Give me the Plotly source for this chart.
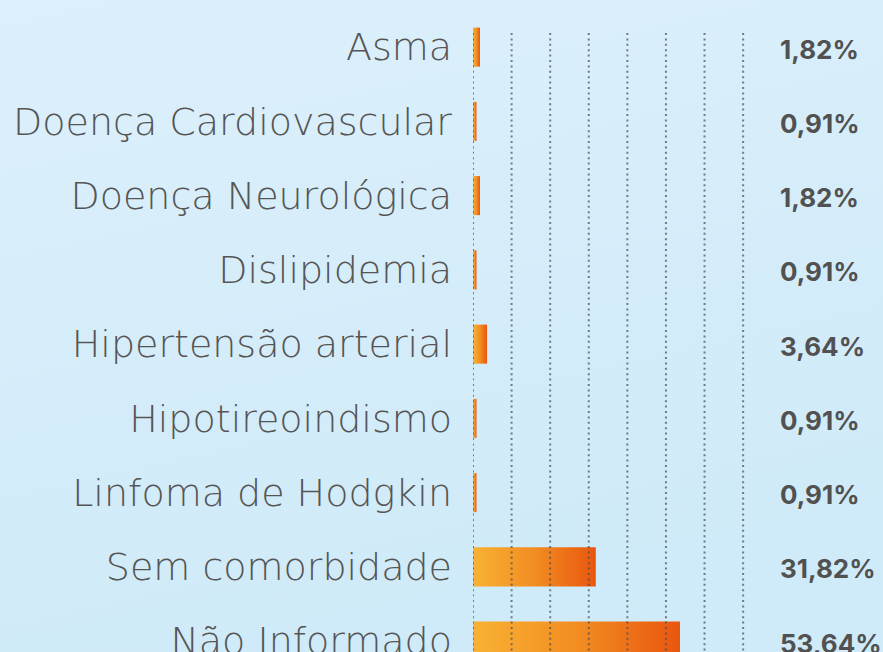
import plotly.graph_objects as go

categories = ["Asma", "Doença Cardiovascular", "Doença Neurológica", "Dislipidemia",
              "Hipertensão arterial", "Hipotireoindismo", "Linfoma de Hodgkin",
              "Sem comorbidade", "Não Informado"]
values = [1.82, 0.91, 1.82, 0.91, 3.64, 0.91, 0.91, 31.82, 53.64]
value_labels = ["1,82%", "0,91%", "1,82%", "0,91%", "3,64%", "0,91%", "0,91%", "31,82%", "53,64%"]
grid_ticks = [0, 10, 20, 30, 40, 50, 60, 70]

W, H = 883, 652
ML, MT = 473, 10
px_per_unit = 3.859
row_px = 74.25
plot_w = W - ML
plot_h = H - MT
x_max = plot_w / px_per_unit
y_top = -0.5
y_bot = y_top + plot_h / row_px
half = 0.263
label_x = (778 - ML) / px_per_unit

fig = go.Figure()
for i, (c, v) in enumerate(zip(categories, values)):
    fig.add_trace(go.Scatter(
        x=[0, v, v, 0, 0], y=[i - half, i - half, i + half, i + half, i - half],
        mode="lines", line=dict(width=0), fill="toself",
        fillgradient=dict(type="horizontal",
                          colorscale=[[0, "#f8b233"], [0.5, "#f28d22"], [1, "#e9560e"]]),
        hoverinfo="skip", showlegend=False))

for i, t in enumerate(value_labels):
    fig.add_annotation(x=label_x, y=i, text=t, xanchor="left", yanchor="middle",
                       showarrow=False, yshift=-2,
                       font=dict(family="Inter", size=26, color="#515151", weight=700))

for g in grid_ticks:
    fig.add_shape(type="line", x0=g, x1=g, y0=-0.19, y1=y_bot, layer="above",
                  line=dict(color="rgba(70,80,90,0.72)", width=2, dash="2px,3.4px"))

bg_svg = ("data:image/svg+xml;utf8,<svg xmlns='http://www.w3.org/2000/svg' width='100' height='100' "
          "preserveAspectRatio='none'><defs><linearGradient id='g' x1='0' y1='0' x2='0.3' y2='1'>"
          "<stop offset='0' stop-color='%23dcf0fb'/><stop offset='1' stop-color='%23cfeaf8'/>"
          "</linearGradient></defs><rect width='100' height='100' fill='url(%23g)'/></svg>")
fig.add_layout_image(source=bg_svg, xref="paper", yref="paper",
                     x=-ML / plot_w, y=1 + MT / plot_h, sizex=W / plot_w, sizey=H / plot_h,
                     xanchor="left", yanchor="top", sizing="stretch", layer="below")

fig.update_layout(
    width=W, height=H,
    margin=dict(l=ML, r=0, t=MT, b=0, pad=0, autoexpand=False),
    paper_bgcolor="#d6edf9", plot_bgcolor="rgba(0,0,0,0)",
    xaxis=dict(range=[0, x_max], showgrid=False, zeroline=False, showticklabels=False,
               showline=False, fixedrange=True),
    yaxis=dict(range=[y_bot, y_top], tickmode="array", tickvals=list(range(len(categories))),
               ticktext=categories, showgrid=False, zeroline=False, showline=False,
               ticks="", ticklabelstandoff=20, ticklabeloverflow="allow", fixedrange=True,
               tickfont=dict(family="DejaVu Sans", size=38, color="#555555", weight=200)),
    showlegend=False,
)
fig.write_html("out.html", config={"displayModeBar": False, "staticPlot": True},
               post_script="document.body.style.margin='0';document.body.style.overflow='hidden';"
                           "document.body.style.background='#d6edf9';")
